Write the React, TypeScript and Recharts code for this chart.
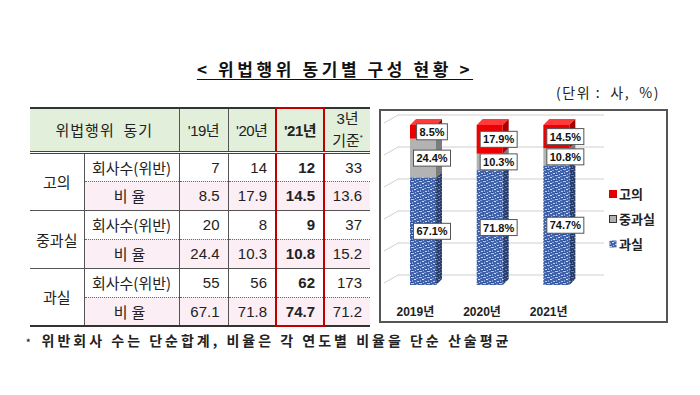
import { BarChart, Bar, XAxis, YAxis, CartesianGrid, LabelList } from "recharts";

// 차트 값 (비율, %)
const years = ["2019년", "2020년", "2021년"];
const gwasilRate = [67.1, 71.8, 74.7];
const jungRate = [24.4, 10.3, 10.8];
const gouiRate = [8.5, 17.9, 14.5];

// 표 값
const tableHeads = ["'19년", "'20년", "'21년"];
const gouiCount = [7, 14, 12, 33];
const jungCount = [20, 8, 9, 37];
const gwasilCount = [55, 56, 62, 173];
const avgRate = [13.6, 15.2, 71.2]; // 3년 기준: 고의, 중과실, 과실
const gridTicks = [0, 10, 20, 30, 40, 50, 60, 70, 80, 90, 100];

const data = years.map((year, i) => ({
  year,
  gwasil: gwasilRate[i],
  jung: jungRate[i],
  goui: gouiRate[i],
}));

const groups = [
  { name: "고의", count: gouiCount, rate: [...gouiRate, avgRate[0]] },
  { name: "중과실", count: jungCount, rate: [...jungRate, avgRate[1]] },
  { name: "과실", count: gwasilCount, rate: [...gwasilRate, avgRate[2]] },
];

const FONT = "'Liberation Sans', 'Noto Sans CJK KR', sans-serif";
const KFONT = "'Noto Sans CJK KR', sans-serif";
const D = 6;
const RED = "#c00000";

function Bar3D(props: any) {
  const { x, y, width, height, front, side, top, shade } = props;
  if (!height) return null;
  const topPts = `${x},${y} ${x + D},${y - D} ${x + width + D},${y - D} ${x + width},${y}`;
  const sidePts = `${x + width},${y} ${x + width + D},${y - D} ${x + width + D},${y + height - D} ${x + width},${y + height}`;
  return (
    <g>
      <polygon points={topPts} fill={top} />
      <polygon points={sidePts} fill={side} />
      {shade && <polygon points={sidePts} fill="#000" fillOpacity={0.35} />}
      <rect x={x} y={y} width={width} height={height} fill={front} />
    </g>
  );
}

function BoxLabel(props: any) {
  const { x, y, width, height, value } = props;
  const txt = `${Number(value).toFixed(1)}%`;
  const w = txt.length * 6.2 + 6;
  const cx = Number(x) + Number(width) / 2 + 9;
  const cy = Number(y) + Number(height) / 2;
  return (
    <g>
      <rect x={cx - w / 2} y={cy - 8} width={w} height={16} fill="#fff" stroke="#555" strokeWidth={1} />
      <text x={cx} y={cy} textAnchor="middle" dominantBaseline="central" fontSize={11} fontWeight="bold" fill="#111" fontFamily={FONT}>
        {txt}
      </text>
    </g>
  );
}

function YearTick(props: any) {
  const { x, y, payload } = props;
  return (
    <text x={x - 8} y={y} dy={19} textAnchor="middle" dominantBaseline="central" fontSize={12} fontWeight="bold" fill="#222" fontFamily={FONT}>
      {payload.value}
    </text>
  );
}

function GridLine(props: any) {
  const { x1, x2, y1, index } = props;
  return (
    <path
      key={`g-${index}`}
      d={`M${x1 - 6},${y1 - 2} L${x1 + 8},${y1 - 10} L${x2 + 14},${y1 - 10}`}
      stroke="#cfcfcf"
      strokeWidth={1}
      fill="none"
    />
  );
}

const legendItems = [
  { name: "고의", fill: "#e00000", border: "#e00000" },
  { name: "중과실", fill: "#b0b0b0", border: "#333" },
  { name: "과실", fill: "url(#blueTex)", border: "none" },
];

function LegendBox() {
  return (
    <div style={{ position: "absolute", left: 609, top: 181, fontFamily: KFONT, fontWeight: 700, fontSize: 13, color: "#222" }}>
      {legendItems.map((it) => (
        <div key={it.name} style={{ display: "flex", alignItems: "center", height: 25 }}>
          <svg width={8} height={8} style={{ marginRight: 2 }}>
            <rect x={0.5} y={0.5} width={7} height={7} fill={it.fill} stroke={it.border} />
          </svg>
          {it.name}
        </div>
      ))}
    </div>
  );
}

const cell: React.CSSProperties = {
  padding: 0,
  borderLeft: "1px solid #555",
  fontFamily: FONT,
  fontSize: 15,
  color: "#222",
};

export default function App() {
  const numCell = (col: number, pink: boolean, bottom: string, lastRow: boolean): React.CSSProperties => ({
    ...cell,
    textAlign: "right",
    paddingRight: 8,
    background: pink ? "#fbeef4" : "#fff",
    borderBottom: bottom,
    fontWeight: col === 2 ? 700 : 400,
    ...(col === 2
      ? { borderLeft: `2px solid ${RED}`, borderRight: `2px solid ${RED}` }
      : {}),
    ...(col === 2 && lastRow ? { borderBottom: `2px solid ${RED}` } : {}),
  });

  return (
    <div style={{ position: "absolute", left: 0, top: 0, width: 700, height: 395, background: "#fff", overflow: "hidden" }}>
      <svg width={0} height={0} style={{ position: "absolute" }}>
        <defs>
          <pattern id="blueTex" width={8} height={6} patternUnits="userSpaceOnUse">
            <rect width={8} height={6} fill="#3f62aa" />
            <rect x={0} y={0} width={3} height={1} fill="#b8c9ea" />
            <rect x={5} y={1} width={2} height={1} fill="#7f9bd2" />
            <rect x={3} y={2} width={2} height={1} fill="#d6e0f3" />
            <rect x={1} y={3} width={1} height={2} fill="#8aa3d8" />
            <rect x={6} y={4} width={2} height={1} fill="#c2d1ee" />
            <rect x={0} y={5} width={2} height={1} fill="#2a4685" />
            <rect x={4} y={5} width={1} height={1} fill="#a9bde4" />
          </pattern>
        </defs>
      </svg>

      {/* 제목 */}
      <div
        style={{
          position: "absolute", left: 0, width: 670, top: 56, textAlign: "center",
          fontFamily: KFONT, fontWeight: 700, fontSize: 17, letterSpacing: 3.6,
          textDecoration: "underline", textUnderlineOffset: 3, color: "#111",
        }}
      >
        {"< 위법행위 동기별 구성 현황 >"}
      </div>
      <div style={{ position: "absolute", right: 40, top: 82, fontFamily: KFONT, fontSize: 14, color: "#222", letterSpacing: 1.5, whiteSpace: "pre" }}>
        {"(단위 :  사,  %)"}
      </div>

      {/* 표 */}
      <table
        style={{
          position: "absolute", left: 30, top: 107, width: 340, borderCollapse: "collapse",
          tableLayout: "fixed", borderTop: "2px solid #333", borderBottom: "2px solid #333",
        }}
      >
        <colgroup>
          <col style={{ width: 54 }} />
          <col style={{ width: 95 }} />
          <col style={{ width: 49 }} />
          <col style={{ width: 48 }} />
          <col style={{ width: 48 }} />
          <col style={{ width: 46 }} />
        </colgroup>
        <tbody>
          <tr style={{ height: 44 }}>
            <td colSpan={2} style={{ ...cell, borderLeft: "none", background: "#e2efda", textAlign: "center", fontFamily: KFONT, letterSpacing: 1, borderBottom: "3px double #444" }}>
              위법행위&nbsp;&nbsp;동기
            </td>
            {tableHeads.map((h, i) => (
              <td
                key={h}
                style={{
                  ...cell, background: "#e2efda", textAlign: "center", borderBottom: "3px double #444",
                  fontWeight: i === 2 ? 700 : 400, letterSpacing: -0.5,
                  ...(i === 2 ? { borderLeft: `2px solid ${RED}`, borderRight: `2px solid ${RED}`, borderTop: `2px solid ${RED}` } : {}),
                }}
              >
                {h}
              </td>
            ))}
            <td style={{ ...cell, background: "#e2efda", textAlign: "center", borderBottom: "3px double #444", lineHeight: "19px", fontSize: 15 }}>
              3년
              <br />
              기준<sup style={{ fontSize: 8 }}>*</sup>
            </td>
          </tr>
          {groups.map((g, gi) => {
            const lastGroup = gi === groups.length - 1;
            const solid = lastGroup ? "none" : "1px solid #555";
            return [
              <tr key={`${g.name}-c`} style={{ height: 29 }}>
                <td rowSpan={2} style={{ ...cell, borderLeft: "none", textAlign: "center", fontFamily: KFONT, borderBottom: solid }}>
                  {g.name}
                </td>
                <td style={{ ...cell, textAlign: "center", fontFamily: KFONT, borderBottom: "1px dotted #666" }}>회사수(위반)</td>
                {g.count.map((v, ci) => (
                  <td key={ci} style={numCell(ci, false, "1px dotted #666", false)}>
                    {v}
                  </td>
                ))}
              </tr>,
              <tr key={`${g.name}-r`} style={{ height: 29 }}>
                <td style={{ ...cell, textAlign: "center", fontFamily: KFONT, letterSpacing: 4, background: "#fbeef4", borderBottom: solid }}>비율</td>
                {g.rate.map((v, ci) => (
                  <td key={ci} style={numCell(ci, true, solid, lastGroup)}>
                    {v.toFixed(1)}
                  </td>
                ))}
              </tr>,
            ];
          })}
        </tbody>
      </table>

      {/* 차트 */}
      <div style={{ position: "absolute", left: 379, top: 109, width: 289, height: 214, border: "2px solid #555", boxSizing: "border-box" }} />
      <div style={{ position: "absolute", left: 379, top: 109 }}>
        <BarChart width={289} height={214} data={data} margin={{ top: 16, right: 78, left: 11, bottom: 0 }}>
          <CartesianGrid vertical={false} horizontal={GridLine as any} />
          <XAxis dataKey="year" axisLine={false} tickLine={false} tick={<YearTick />} interval={0} height={38} />
          <YAxis hide domain={[0, 100]} ticks={gridTicks} width={0} />
          <Bar dataKey="gwasil" stackId="a" barSize={26} isAnimationActive={false}
            shape={(p: any) => <Bar3D {...p} front="url(#blueTex)" side="url(#blueTex)" top="url(#blueTex)" shade />}>
            <LabelList dataKey="gwasil" content={BoxLabel} />
          </Bar>
          <Bar dataKey="jung" stackId="a" barSize={26} isAnimationActive={false}
            shape={(p: any) => <Bar3D {...p} front="#b3b3b3" side="#7c7c7c" top="#d2d2d2" />}>
            <LabelList dataKey="jung" content={BoxLabel} />
          </Bar>
          <Bar dataKey="goui" stackId="a" barSize={26} isAnimationActive={false}
            shape={(p: any) => <Bar3D {...p} front="#ee0000" side="#a80000" top="#ff3a3a" />}>
            <LabelList dataKey="goui" content={BoxLabel} />
          </Bar>
        </BarChart>
      </div>
      <LegendBox />

      {/* 주석 */}
      <div style={{ position: "absolute", left: 26, top: 330, fontFamily: KFONT, fontWeight: 700, fontSize: 14, color: "#222", letterSpacing: 3, whiteSpace: "nowrap" }}>
        <span style={{ fontSize: 9, verticalAlign: "middle", marginRight: 8 }}>*</span>
        위반회사 수는 단순합계, 비율은 각 연도별 비율을 단순 산술평균
      </div>
    </div>
  );
}
